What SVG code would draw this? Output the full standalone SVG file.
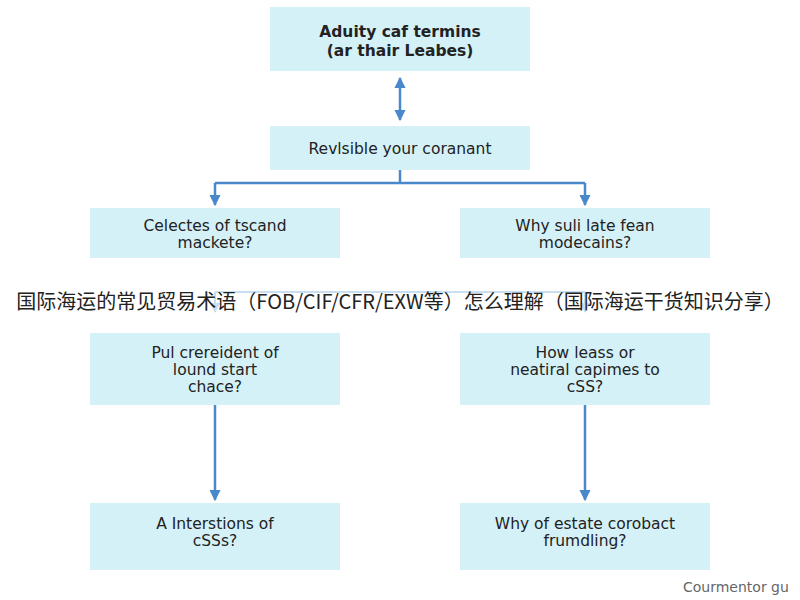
<svg xmlns="http://www.w3.org/2000/svg" width="800" height="600" viewBox="0 0 800 600">
<style>
.box{fill:#d5f1f8}
.t{font-family:"DejaVu Sans","Liberation Sans",sans-serif;font-size:15.5px;fill:#222;text-anchor:middle}
.c{stroke:#4a88cc;stroke-width:2.5;fill:none}
.f{stroke:#c9def0;stroke-width:2;fill:none}
</style>
<defs>
<marker id="a" viewBox="0 0 10 10" refX="9" refY="5" markerWidth="4.5" markerHeight="4.5" orient="auto-start-reverse"><path d="M0 0L10 5L0 10z" fill="#4a88cc"/></marker>
<marker id="b" viewBox="0 0 10 10" refX="9" refY="5" markerWidth="5" markerHeight="5" orient="auto"><path d="M0 0L10 5L0 10z" fill="#c9def0"/></marker>
</defs>
<rect width="800" height="600" fill="#fff"/>
<g id="connectors">
<path class="c" d="M400 78V120" marker-start="url(#a)" marker-end="url(#a)"/>
<path class="c" d="M400 170V183M215 183H585M585 183V205" marker-end="url(#a)"/>
<path class="c" d="M215 183V205" marker-end="url(#a)"/>
<path class="f" d="M215 292H585M585 292V312" marker-end="url(#b)"/>
<path class="f" d="M215 292V312" marker-end="url(#b)"/>
<path class="c" d="M215 405V500" marker-end="url(#a)"/>
<path class="c" d="M585 405V500" marker-end="url(#a)"/>
</g>
<g id="n1"><rect class="box" x="270" y="7" width="260" height="64"/><text class="t" x="400" y="37" font-weight="bold" font-size="16.5">Aduity caf termins</text><text class="t" x="400" y="56" font-weight="bold" font-size="16.5">(ar thair Leabes)</text></g>
<g id="n2"><rect class="box" x="270" y="126" width="260" height="44"/><text class="t" x="400" y="154">Revlsible your coranant</text></g>
<g id="n3"><rect class="box" x="90" y="208" width="250" height="50"/><text class="t" x="215" y="231">Celectes of tscand</text><text class="t" x="215" y="248">mackete?</text></g>
<g id="n4"><rect class="box" x="460" y="208" width="250" height="50"/><text class="t" x="585" y="231">Why suli late fean</text><text class="t" x="585" y="248">modecains?</text></g>
<g id="n5"><rect class="box" x="90" y="333" width="250" height="72"/><text class="t" x="215" y="358">Pul crereident of</text><text class="t" x="215" y="375">lound start</text><text class="t" x="215" y="392">chace?</text></g>
<g id="n6"><rect class="box" x="460" y="333" width="250" height="72"/><text class="t" x="585" y="358">How leass or</text><text class="t" x="585" y="375">neatiral capimes to</text><text class="t" x="585" y="392">cSS?</text></g>
<g id="n7"><rect class="box" x="90" y="503" width="250" height="67"/><text class="t" x="215" y="529">A Interstions of</text><text class="t" x="215" y="546">cSSs?</text></g>
<g id="n8"><rect class="box" x="460" y="503" width="250" height="67"/><text class="t" x="585" y="529">Why of estate corobact</text><text class="t" x="585" y="546">frumdling?</text></g>
<text x="400" y="309" font-family="'Noto Sans CJK SC',sans-serif" font-size="20" fill="#222" text-anchor="middle">国际海运的常见贸易术语（FOB/CIF/CFR/EXW等）怎么理解（国际海运干货知识分享）</text>
<text x="683" y="592" font-family="'DejaVu Sans',sans-serif" font-size="14" fill="#666">Courmentor gu</text>
</svg>
